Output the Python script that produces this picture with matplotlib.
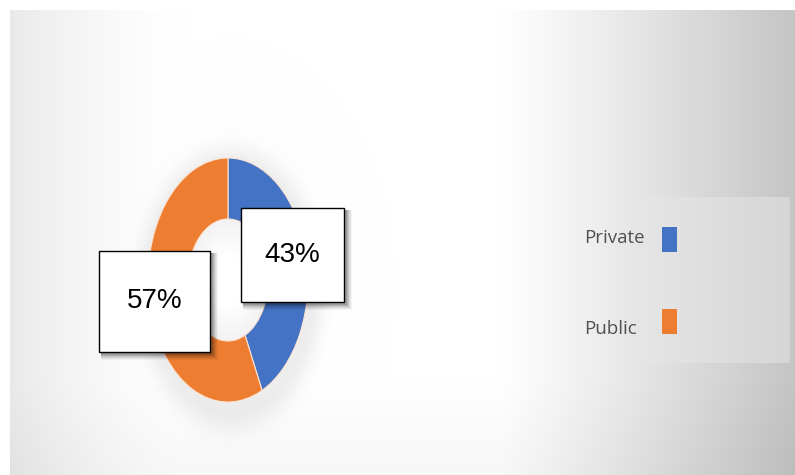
import numpy as np
import matplotlib
matplotlib.use("Agg")
import matplotlib.pyplot as plt
from matplotlib.patches import Rectangle

# data
labels = ["Private", "Public"]
shares = [43, 57]
colors = ["#4472C4", "#ED7D31"]
pct_text = ["43%", "57%"]

W, H = 795, 475
fig = plt.figure(figsize=(W / 100, H / 100), dpi=100)
fig.patch.set_facecolor("white")

# ── background: slide-like soft gradient ───────────────────────────
bg = fig.add_axes([0, 0, 1, 1])
bg.set_xlim(0, W); bg.set_ylim(H, 0); bg.axis("off")
yy, xx = np.mgrid[0:H, 0:W] + 0.5
val = (1 - 0.085 * np.clip((190 - xx) / 180, 0, 1) ** 1.6
         - 0.23 * np.clip((xx - 500) / 295, 0, 1) ** 1.1
         - 0.03 * np.clip((yy - 380) / 95, 0, 1))
# soft halo around the donut
cx, cy, rx, ry = 228, 280, 80, 122
e = np.sqrt(((xx - cx - 3) / rx) ** 2 + ((yy - cy - 8) / ry) ** 2)
val -= 0.07 * np.exp(-((e - 1.0) / 0.18) ** 2) * (e > 0.9)
# slightly shaded hole
e0 = np.sqrt(((xx - cx) / rx) ** 2 + ((yy - cy) / ry) ** 2)
val -= 0.05 * np.clip((e0 - 0.2) / 0.3, 0, 1) * (e0 < 0.55)
val = np.clip(val, 0, 1)
img = np.dstack([val, val, val])
img[:10, :] = 1
img[:, :10] = 1
bg.imshow(img, extent=[0, W, H, 0], aspect="auto", zorder=0)

# legend panel
bg.add_patch(Rectangle((643, 197), 147, 166, facecolor="#e6e6e6", edgecolor="none",
                       alpha=0.5, zorder=1))

# ── donut (stretched into an ellipse like the original) ───────────
ax = fig.add_axes([(cx - rx) / W, 1 - (cy + ry) / H, 2 * rx / W, 2 * ry / H])
ax.pie(shares, colors=colors, startangle=90, counterclock=False, radius=1.0,
       wedgeprops=dict(width=0.5, edgecolor="#fbe3d0", linewidth=0.8))
ax.set_aspect("auto")
ax.set_xlim(-1.0, 1.0); ax.set_ylim(-1.0, 1.0)
ax.axis("off")

# ── data label boxes ──────────────────────────────────────────────
fg = fig.add_axes([0, 0, 1, 1])
fg.set_xlim(0, W); fg.set_ylim(H, 0); fg.axis("off")
boxes = [(241, 208, 103, 94), (99, 251, 111, 101)]
for (x0, y0, bw, bh), t in zip(boxes, pct_text):
    for k, a in zip(range(6, 0, -1), [0.04, 0.05, 0.06, 0.08, 0.1, 0.12]):
        fg.add_patch(Rectangle((x0 + 2, y0 + 2), bw + k, bh + k, facecolor="black",
                               edgecolor="none", alpha=a, zorder=2))
    fg.add_patch(Rectangle((x0, y0), bw, bh, facecolor="white", edgecolor="black",
                           linewidth=1.0, zorder=3))
    fg.text(x0 + bw / 2, y0 + bh / 2, t, ha="center", va="center", fontsize=20,
            family="Liberation Sans", color="black", zorder=4)

# ── legend: label on the left, swatch on the right ────────────────
text_y = [238, 329]
swatch_y = [227, 309]
for lab, c, ty, sy in zip(labels, colors, text_y, swatch_y):
    fg.text(584, ty, lab, ha="left", va="center", fontsize=13.5, family="Open Sans",
            color="#505050", zorder=4)
    fg.add_patch(Rectangle((662, sy), 15, 25, facecolor=c, edgecolor="none", zorder=4))

fig.savefig("out.png", dpi=100)
